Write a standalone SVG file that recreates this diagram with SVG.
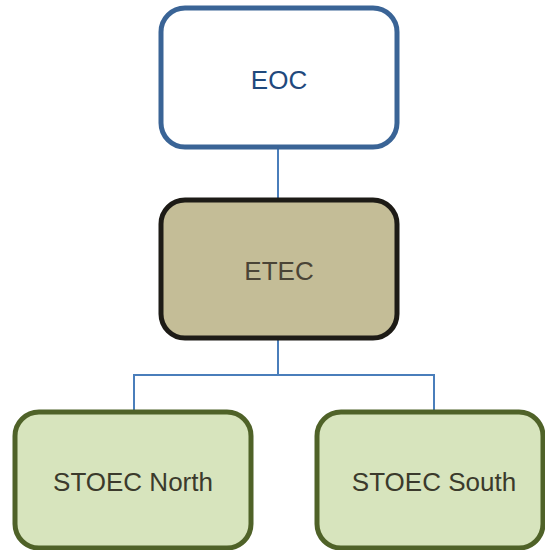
<svg xmlns="http://www.w3.org/2000/svg" width="545" height="550" viewBox="0 0 545 550">
<style>
text{font-family:"Liberation Sans",Arial,sans-serif;font-size:26px;text-anchor:middle}
.conn{stroke:#4a7ebb;stroke-width:2;fill:none}
</style>
<rect width="545" height="550" fill="#ffffff"/>
<g id="connectors">
<line class="conn" x1="278" y1="147" x2="278" y2="200"/>
<polyline class="conn" points="278,338 278,375 134,375 134,412"/>
<polyline class="conn" points="278,375 434,375 434,412"/>
</g>
<g id="eoc">
<rect x="161" y="8" width="236" height="139" rx="24" fill="#ffffff" stroke="#3a6496" stroke-width="5"/>
<text x="279" y="89" fill="#1f497d">EOC</text>
</g>
<g id="etec">
<rect x="161" y="200" width="236" height="138" rx="24" fill="#c4bd97" stroke="#1d1b16" stroke-width="5"/>
<text x="279" y="280" fill="#4a4436">ETEC</text>
</g>
<g id="stoec-north">
<rect x="15" y="412" width="236" height="136" rx="24" fill="#d7e4bd" stroke="#4f6228" stroke-width="5"/>
<text x="133" y="491" fill="#3b3a2c">STOEC North</text>
</g>
<g id="stoec-south">
<rect x="317" y="412" width="226" height="136" rx="24" fill="#d7e4bd" stroke="#4f6228" stroke-width="5"/>
<text x="434" y="491" fill="#3b3a2c">STOEC South</text>
</g>
</svg>
